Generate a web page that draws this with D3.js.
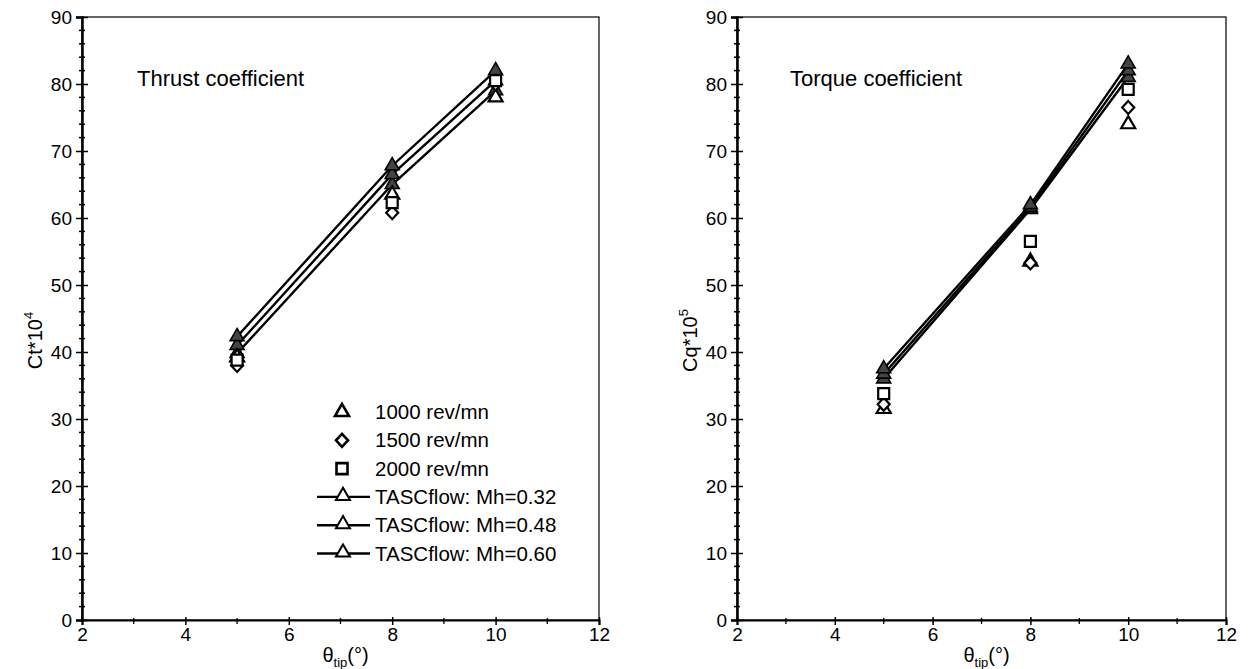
<!DOCTYPE html>
<html>
<head>
<meta charset="utf-8">
<script src="https://cdnjs.cloudflare.com/ajax/libs/d3/7.8.5/d3.min.js"></script>
<style>
  body { margin: 0; background: #fff; }
  svg { font-family: "Liberation Sans", Arial, sans-serif; }
</style>
</head>
<body>
<svg id="chart" width="1254" height="669"></svg>
<script>
// ---- data ----
var thetaTip = [5, 8, 10]
var xTicks = [2, 4, 6, 8, 10, 12]
var yTicks = [0, 10, 20, 30, 40, 50, 60, 70, 80, 90]

// thrust coefficient Ct*10^4
var ctExp1000 = [39.2, 63.5, 78]
var ctExp1500 = [38, 60.8, 80]
var ctExp2000 = [38.8, 62.3, 80.5]
var ctMh032 = [39.8, 65, 79]
var ctMh048 = [41, 66.5, 80.5]
var ctMh060 = [42.3, 67.8, 82]

// torque coefficient Cq*10^5
var cqExp1000 = [31.5, 53.5, 74]
var cqExp1500 = [32.2, 53.3, 76.5]
var cqExp2000 = [33.8, 56.5, 79.2]
var cqMh032 = [36, 61.3, 81]
var cqMh048 = [36.7, 61.6, 82]
var cqMh060 = [37.5, 62, 83]

var legendLabels = ['1000 rev/mn', '1500 rev/mn', '2000 rev/mn',
  'TASCflow: Mh=0.32', 'TASCflow: Mh=0.48', 'TASCflow: Mh=0.60']

var svg = d3.select('#chart')

var triPath = d3.symbol().type(d3.symbolTriangle).size(85)()
var diaPath = 'M0,-6.5L6,0L0,6.5L-6,0Z'
var sqPath = 'M-5.5,-5.5L5.5,-5.5L5.5,5.5L-5.5,5.5Z'

function drawPanel (opt) {
  var left = opt.left, right = opt.right, top = 17, bottom = 620
  var x = d3.scaleLinear().domain([2, 12]).range([left, right])
  var y = d3.scaleLinear().domain([0, 90]).range([bottom, top])
  var g = svg.append('g')

  // frame
  g.append('rect')
    .attr('x', left).attr('y', top)
    .attr('width', right - left).attr('height', bottom - top)
    .attr('fill', 'none').attr('stroke', '#000').attr('stroke-width', 1.2)

  // y axis
  var yAxis = d3.axisLeft(y).tickValues(yTicks).tickSize(6).tickPadding(4)
  var gy = g.append('g').attr('transform', `translate(${left},0)`).call(yAxis)
  gy.select('.domain').attr('stroke-width', 2.5)
  gy.selectAll('.tick line').attr('x2', -6).attr('x1', 6).attr('stroke-width', 1.5)
  gy.selectAll('text').attr('font-size', '19px').attr('fill', '#000')
  // y minor ticks
  var yMinor = d3.range(0, 91, 2).filter(v => v % 10 != 0)
  g.selectAll('.yminor').data(yMinor).enter().append('line')
    .attr('x1', left - 3).attr('x2', left + 3)
    .attr('y1', d => y(d)).attr('y2', d => y(d))
    .attr('stroke', '#000').attr('stroke-width', 1.5)

  // x axis
  var xAxis = d3.axisBottom(x).tickValues(xTicks).tickSize(5).tickPadding(3)
  var gx = g.append('g').attr('transform', `translate(0,${bottom})`).call(xAxis)
  gx.select('.domain').attr('stroke-width', 2)
  gx.selectAll('.tick line').attr('y1', -3).attr('stroke-width', 1.5)
  gx.selectAll('text').attr('font-size', '19px').attr('fill', '#000')
  var xMinor = [3, 5, 7, 9, 11]
  g.selectAll('.xminor').data(xMinor).enter().append('line')
    .attr('x1', d => x(d)).attr('x2', d => x(d))
    .attr('y1', bottom - 2).attr('y2', bottom + 4)
    .attr('stroke', '#000').attr('stroke-width', 1.3)

  // axis titles
  var xt = g.append('text')
    .attr('x', (left + right) / 2 + 5).attr('y', 662)
    .attr('text-anchor', 'middle').attr('font-size', '20px')
  xt.append('tspan').text('θ')
  xt.append('tspan').attr('font-size', '13px').attr('dy', 5).text('tip')
  xt.append('tspan').attr('dy', -5).text('(°)')

  var yt = g.append('text')
    .attr('transform', `translate(${left - 40},${(top + bottom) / 2 + 22}) rotate(-90)`)
    .attr('text-anchor', 'middle').attr('font-size', '20px')
  yt.append('tspan').text(opt.yLabel)
  yt.append('tspan').attr('font-size', '13px').attr('dy', -9).text(opt.yExp)

  g.append('text')
    .attr('x', opt.titleX).attr('y', 86)
    .attr('font-size', '22px').text(opt.title)

  // model lines
  var line = d3.line().x((d, i) => x(thetaTip[i])).y(d => y(d))
  opt.lines.forEach(function (s) {
    g.append('path').datum(s).attr('d', line)
      .attr('fill', 'none').attr('stroke', '#000').attr('stroke-width', 2.4)
    g.selectAll(null).data(s).enter().append('path')
      .attr('d', triPath)
      .attr('transform', (d, i) => `translate(${x(thetaTip[i])},${y(d)})`)
      .attr('fill', '#444').attr('stroke', '#000').attr('stroke-width', 1.6)
  })

  // experimental points
  var exp = [[opt.exp[0], triPath], [opt.exp[1], diaPath], [opt.exp[2], sqPath]]
  exp.forEach(function (e) {
    g.selectAll(null).data(e[0]).enter().append('path')
      .attr('d', e[1])
      .attr('transform', (d, i) => `translate(${x(thetaTip[i])},${y(d)})`)
      .attr('fill', '#fff').attr('stroke', '#000').attr('stroke-width', 2.2)
  })
  return { x: x, y: y, g: g }
}

var p1 = drawPanel({
  left: 82, right: 599, title: 'Thrust coefficient', titleX: 137,
  yLabel: 'Ct*10', yExp: '4',
  lines: [ctMh032, ctMh048, ctMh060],
  exp: [ctExp1000, ctExp1500, ctExp2000]
})
drawPanel({
  left: 737, right: 1226, title: 'Torque coefficient', titleX: 790,
  yLabel: 'Cq*10', yExp: '5',
  lines: [cqMh032, cqMh048, cqMh060],
  exp: [cqExp1000, cqExp1500, cqExp2000]
})

// legend (left panel)
var leg = p1.g.append('g')
var legShapes = [triPath, diaPath, sqPath]
legendLabels.forEach(function (lab, i) {
  var ly = 412 + i * 28.3
  if (i < 3) {
    leg.append('path').attr('d', legShapes[i])
      .attr('transform', `translate(${342},${ly})`)
      .attr('fill', '#fff').attr('stroke', '#000').attr('stroke-width', 2.6)
  } else {
    leg.append('line').attr('x1', 317).attr('x2', 370).attr('y1', ly).attr('y2', ly)
      .attr('stroke', '#000').attr('stroke-width', 2.4)
    leg.append('path').attr('d', triPath)
      .attr('transform', `translate(${343},${ly - 1})`)
      .attr('fill', '#fff').attr('stroke', '#000').attr('stroke-width', 2)
  }
  leg.append('text').attr('x', 375).attr('y', ly + 7)
    .attr('font-size', '20.5px').text(lab)
})
</script>
</body>
</html>
